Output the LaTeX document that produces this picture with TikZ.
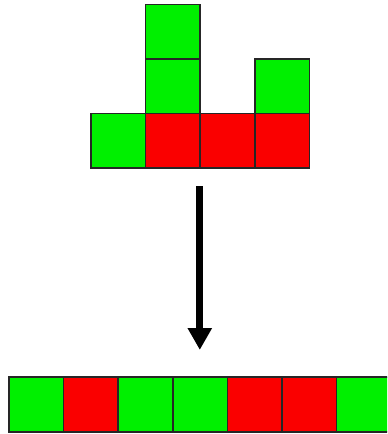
\documentclass[tikz,border=0pt]{standalone}
\usetikzlibrary{arrows.meta}
\definecolor{cellgreen}{RGB}{0,240,0}
\definecolor{cellred}{RGB}{250,0,0}
\tikzset{
	cell/.style={draw=black!85, line width=0.8pt},
}
\begin{document}
\begin{tikzpicture}
		\useasboundingbox (0,0) rectangle (7.09,7.95);
		\clip (0,0) rectangle (7.09,7.95);
		%--stacked shape (top)
		\begin{scope}[shift={(1.667,4.87)}]
			\filldraw[cell, fill=cellgreen] (0,0) rectangle (1,1);
			\foreach \x in {1,2,3}
				\filldraw[cell, fill=cellred] (\x,0) rectangle (\x+1,1);
			\foreach \y in {1,2}
				\filldraw[cell, fill=cellgreen] (1,\y) rectangle (2,\y+1);
			\filldraw[cell, fill=cellgreen] (3,1) rectangle (4,2);
		\end{scope}
		
		%--arrow
		\coordinate (from) at (3.66,4.54);
		\coordinate (to) at (3.66,1.54);
		\draw[line width=3.6pt, -{Triangle[length=0.4cm,width=0.42cm]}] (from) -- (to);
		
		%--flat row (bottom)
		\begin{scope}[shift={(0.165,0.04)}]
			\foreach \x/\c in {0/cellgreen, 1/cellred, 2/cellgreen, 3/cellgreen, 4/cellred, 5/cellred, 6/cellgreen}
				\filldraw[cell, fill=\c] (\x,0) rectangle (\x+1,1);
		\end{scope}
	\end{tikzpicture}
\end{document}
